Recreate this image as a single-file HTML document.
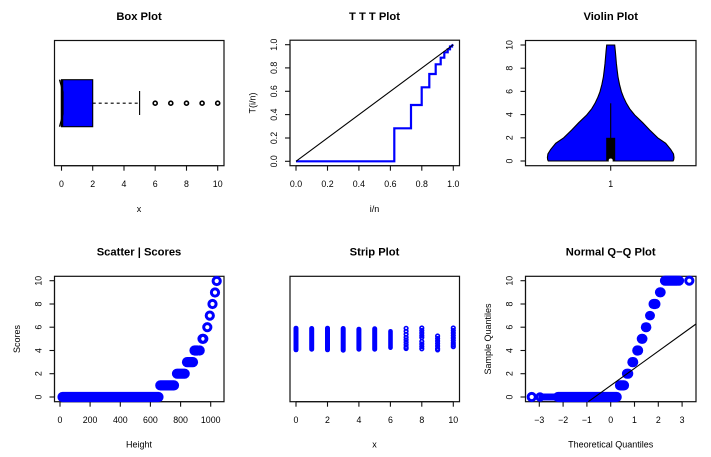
<!DOCTYPE html>
<html><head><meta charset="utf-8"><style>
html,body{margin:0;padding:0;background:#fff;}
svg{display:block;font-family:"Liberation Sans",Arial,sans-serif;}
.t{font-size:11.2px;font-weight:bold;text-anchor:middle;}
.k{font-size:8.8px;text-anchor:middle;}
.l{font-size:9px;text-anchor:middle;}
.f{fill:none;stroke:#111;stroke-width:1.2;}
.tk{stroke:#111;stroke-width:1.1;}
</style></head><body>
<svg width="711" height="457" viewBox="0 0 711 457" xmlns="http://www.w3.org/2000/svg">
<rect width="711" height="457" fill="#fff"/>

<!-- ===== Box Plot ===== -->
<text class="t" x="139" y="20">Box Plot</text>
<rect class="f" x="54.5" y="40.5" width="169.5" height="125.2"/>
<g class="tk">
<line x1="61.5" y1="165.7" x2="217.7" y2="165.7"/>
<line x1="61.5" y1="165.7" x2="61.5" y2="170.7"/>
<line x1="92.7" y1="165.7" x2="92.7" y2="170.7"/>
<line x1="124" y1="165.7" x2="124" y2="170.7"/>
<line x1="155.2" y1="165.7" x2="155.2" y2="170.7"/>
<line x1="186.5" y1="165.7" x2="186.5" y2="170.7"/>
<line x1="217.7" y1="165.7" x2="217.7" y2="170.7"/>
</g>
<g class="k">
<text x="61.5" y="187.2">0</text><text x="92.7" y="187.2">2</text><text x="124" y="187.2">4</text>
<text x="155.2" y="187.2">6</text><text x="186.5" y="187.2">8</text><text x="217.7" y="187.2">10</text>
</g>
<text class="l" x="139" y="212">x</text>
<rect x="61.5" y="79.7" width="31.2" height="47" fill="#0000ff" stroke="#000" stroke-width="1.1"/>
<path d="M59.5,79.7 L63,92 L63,114 L59.5,126.7" fill="none" stroke="#000" stroke-width="1.3"/>
<line x1="62" y1="80" x2="62" y2="126.5" stroke="#000" stroke-width="2.5"/>
<line x1="92.7" y1="103.2" x2="139.6" y2="103.2" stroke="#000" stroke-width="1.1" stroke-dasharray="3,3"/>
<line x1="139.6" y1="91" x2="139.6" y2="115" stroke="#000" stroke-width="1.1"/>
<g fill="#fff" stroke="#000" stroke-width="1.6">
<circle cx="155.2" cy="103.2" r="2"/><circle cx="170.8" cy="103.2" r="2"/><circle cx="186.5" cy="103.2" r="2"/>
<circle cx="202.1" cy="103.2" r="2"/><circle cx="217.7" cy="103.2" r="2"/>
</g>

<!-- ===== TTT Plot ===== -->
<text class="t" x="374.5" y="20">T T T Plot</text>
<rect class="f" x="290" y="40.2" width="169.5" height="125.5"/>
<g class="tk">
<line x1="296" y1="165.7" x2="453.3" y2="165.7"/>
<line x1="296" y1="165.7" x2="296" y2="170.7"/>
<line x1="327.5" y1="165.7" x2="327.5" y2="170.7"/>
<line x1="358.9" y1="165.7" x2="358.9" y2="170.7"/>
<line x1="390.4" y1="165.7" x2="390.4" y2="170.7"/>
<line x1="421.8" y1="165.7" x2="421.8" y2="170.7"/>
<line x1="453.3" y1="165.7" x2="453.3" y2="170.7"/>
<line x1="290" y1="161.3" x2="290" y2="44.7"/>
<line x1="290" y1="161.3" x2="285" y2="161.3"/>
<line x1="290" y1="138" x2="285" y2="138"/>
<line x1="290" y1="114.6" x2="285" y2="114.6"/>
<line x1="290" y1="91.3" x2="285" y2="91.3"/>
<line x1="290" y1="67.9" x2="285" y2="67.9"/>
<line x1="290" y1="44.7" x2="285" y2="44.7"/>
</g>
<g class="k">
<text x="296" y="187.2">0.0</text><text x="327.5" y="187.2">0.2</text><text x="358.9" y="187.2">0.4</text>
<text x="390.4" y="187.2">0.6</text><text x="421.8" y="187.2">0.8</text><text x="453.3" y="187.2">1.0</text>
<text transform="translate(277.1,161.3) rotate(-90)">0.0</text>
<text transform="translate(277.1,138) rotate(-90)">0.2</text>
<text transform="translate(277.1,114.6) rotate(-90)">0.4</text>
<text transform="translate(277.1,91.3) rotate(-90)">0.6</text>
<text transform="translate(277.1,67.9) rotate(-90)">0.8</text>
<text transform="translate(277.1,44.7) rotate(-90)">1.0</text>
</g>
<text class="l" x="374.5" y="212">i/n</text>
<text class="l" transform="translate(255.6,103) rotate(-90)">T(i/n)</text>
<path d="M296,161.3 H394.3 V128.3 H411 V105 H421.7 V87.3 H429.3 V74 H435.7 V64.3 H440.7 V57.7 H444.3 V52.3 H447.7 V49.3 H450 V46.5 H452 V45.5 L453.3,44.7" fill="none" stroke="#0000ff" stroke-width="2.2"/>
<line x1="296" y1="161.3" x2="453.3" y2="44.7" stroke="#000" stroke-width="1.1"/>

<!-- ===== Violin Plot ===== -->
<text class="t" x="610.7" y="20">Violin Plot</text>
<rect class="f" x="525.5" y="40.5" width="170.5" height="125.2"/>
<g class="tk">
<line x1="525.5" y1="161" x2="520.5" y2="161"/>
<line x1="525.5" y1="137.8" x2="520.5" y2="137.8"/>
<line x1="525.5" y1="114.6" x2="520.5" y2="114.6"/>
<line x1="525.5" y1="91.4" x2="520.5" y2="91.4"/>
<line x1="525.5" y1="68.2" x2="520.5" y2="68.2"/>
<line x1="525.5" y1="45" x2="520.5" y2="45"/>
<line x1="610.7" y1="165.7" x2="610.7" y2="170.7"/>
</g>
<g class="k">
<text transform="translate(512.6,161) rotate(-90)">0</text>
<text transform="translate(512.6,137.8) rotate(-90)">2</text>
<text transform="translate(512.6,114.6) rotate(-90)">4</text>
<text transform="translate(512.6,91.4) rotate(-90)">6</text>
<text transform="translate(512.6,68.2) rotate(-90)">8</text>
<text transform="translate(512.6,45) rotate(-90)">10</text>
<text x="610.7" y="187.2">1</text>
</g>
<path d="M606.7,45 L606.1,50.8 L605.6,56.6 L605,63.6 L604.2,70.5 L603.4,76.8 L601.9,84.4 L600,91.7 L597.9,97.2 L595,103.3 L591.7,108.8 L586.7,115 L578.7,122.7 L571.7,130 L563.7,137.8 L555.7,143.3 L550.7,149.4 L547.9,154 L547.4,157.5 L547.7,159.8 L548.3,161 L673.1,161 L673.7,159.8 L674,157.5 L673.5,154 L670.7,149.4 L665.7,143.3 L657.7,137.8 L649.7,130 L642.7,122.7 L634.7,115 L629.7,108.8 L626.4,103.3 L623.5,97.2 L621.4,91.7 L619.5,84.4 L618,76.8 L617.2,70.5 L616.4,63.6 L615.8,56.6 L615.3,50.8 L614.7,45 Z" fill="#0000ff" stroke="#000" stroke-width="1.1"/>
<line x1="610.7" y1="103.3" x2="610.7" y2="138" stroke="#000" stroke-width="1.1"/>
<rect x="606.2" y="137.8" width="9" height="23.2" fill="#000"/>
<circle cx="610.7" cy="160.5" r="2" fill="#fff"/>

<!-- ===== Scatter | Scores ===== -->
<text class="t" x="139" y="255.7">Scatter | Scores</text>
<rect class="f" x="54.5" y="276.3" width="169.5" height="125.4"/>
<g class="tk">
<line x1="60" y1="401.7" x2="210.7" y2="401.7"/>
<line x1="60" y1="401.7" x2="60" y2="406.7"/>
<line x1="90.1" y1="401.7" x2="90.1" y2="406.7"/>
<line x1="120.3" y1="401.7" x2="120.3" y2="406.7"/>
<line x1="150.4" y1="401.7" x2="150.4" y2="406.7"/>
<line x1="180.6" y1="401.7" x2="180.6" y2="406.7"/>
<line x1="210.7" y1="401.7" x2="210.7" y2="406.7"/>
<line x1="54.5" y1="397" x2="54.5" y2="280.7"/>
<line x1="54.5" y1="397" x2="49.5" y2="397"/>
<line x1="54.5" y1="373.7" x2="49.5" y2="373.7"/>
<line x1="54.5" y1="350.5" x2="49.5" y2="350.5"/>
<line x1="54.5" y1="327.2" x2="49.5" y2="327.2"/>
<line x1="54.5" y1="304" x2="49.5" y2="304"/>
<line x1="54.5" y1="280.7" x2="49.5" y2="280.7"/>
</g>
<g class="k">
<text x="60" y="423.2">0</text><text x="90.1" y="423.2">200</text><text x="120.3" y="423.2">400</text>
<text x="150.4" y="423.2">600</text><text x="180.6" y="423.2">800</text><text x="210.7" y="423.2">1000</text>
<text transform="translate(41.6,397) rotate(-90)">0</text>
<text transform="translate(41.6,373.7) rotate(-90)">2</text>
<text transform="translate(41.6,350.5) rotate(-90)">4</text>
<text transform="translate(41.6,327.2) rotate(-90)">6</text>
<text transform="translate(41.6,304) rotate(-90)">8</text>
<text transform="translate(41.6,280.7) rotate(-90)">10</text>
</g>
<text class="l" x="139" y="447.5">Height</text>
<text class="l" transform="translate(20,339) rotate(-90)">Scores</text>
<g stroke="#0000ff" stroke-linecap="round" stroke-width="10.2" fill="none">
<line x1="62.5" y1="397" x2="158.5" y2="397"/>
<line x1="160.3" y1="385.4" x2="174" y2="385.4"/>
<line x1="177" y1="373.7" x2="184.7" y2="373.7"/>
<line x1="187" y1="362.1" x2="193" y2="362.1"/>
<line x1="194.5" y1="350.5" x2="197.5" y2="350.5"/>
</g>
<g stroke="#0000ff" stroke-width="3" fill="none">
<circle cx="199.7" cy="350.5" r="3.6"/>
<circle cx="202.5" cy="338.8" r="3.6"/>
<circle cx="203.3" cy="338.8" r="3.6"/>
<circle cx="207.3" cy="327.2" r="3.6"/>
<circle cx="209.8" cy="315.6" r="3.6"/>
<circle cx="212.5" cy="304" r="3.6"/>
<circle cx="215" cy="292.5" r="3.6"/>
<circle cx="216.7" cy="281" r="3.6"/>
</g>

<!-- ===== Strip Plot ===== -->
<text class="t" x="374.5" y="255.7">Strip Plot</text>
<rect class="f" x="290" y="276.3" width="169.5" height="125.4"/>
<g class="tk">
<line x1="296" y1="401.7" x2="453.3" y2="401.7"/>
<line x1="296" y1="401.7" x2="296" y2="406.7"/>
<line x1="327.5" y1="401.7" x2="327.5" y2="406.7"/>
<line x1="358.9" y1="401.7" x2="358.9" y2="406.7"/>
<line x1="390.4" y1="401.7" x2="390.4" y2="406.7"/>
<line x1="421.8" y1="401.7" x2="421.8" y2="406.7"/>
<line x1="453.3" y1="401.7" x2="453.3" y2="406.7"/>
</g>
<g class="k">
<text x="296" y="423.2">0</text><text x="327.5" y="423.2">2</text><text x="358.9" y="423.2">4</text>
<text x="390.4" y="423.2">6</text><text x="421.8" y="423.2">8</text><text x="453.3" y="423.2">10</text>
</g>
<text class="l" x="374.5" y="447.5">x</text>
<g fill="#0000ff">
<rect x="293.5" y="325.7" width="5" height="26.6" rx="2.5"/>
<rect x="309.2" y="326" width="5" height="25.7" rx="2.5"/>
<rect x="325" y="325.7" width="5" height="26.6" rx="2.5"/>
<rect x="340.7" y="326" width="5" height="26.7" rx="2.5"/>
<rect x="356.4" y="326.7" width="5" height="25" rx="2.5"/>
<rect x="372.2" y="326.3" width="5" height="25.4" rx="2.5"/>
<rect x="388.2" y="329" width="4.6" height="21" rx="2.3"/>
</g>
<g fill="none" stroke="#0000ff" stroke-width="1.6">
<circle cx="406.1" cy="328.3" r="1.8"/><circle cx="406.1" cy="331.3" r="1.8"/><circle cx="406.1" cy="334.3" r="1.8"/>
<circle cx="406.1" cy="337.3" r="1.8"/><circle cx="406.1" cy="339.8" r="1.8"/><circle cx="406.1" cy="342.3" r="1.8"/>
<circle cx="406.1" cy="344.8" r="1.8"/><circle cx="406.1" cy="347.3" r="1.8"/><circle cx="406.1" cy="348.5" r="1.8"/>
<circle cx="421.8" cy="328" r="1.8"/><circle cx="421.8" cy="330.5" r="1.8"/><circle cx="421.8" cy="333" r="1.8"/>
<circle cx="421.8" cy="335.5" r="1.8"/><circle cx="421.8" cy="337.5" r="1.8"/><circle cx="421.8" cy="341.5" r="1.8"/>
<circle cx="421.8" cy="344" r="1.8"/><circle cx="421.8" cy="346.5" r="1.8"/><circle cx="421.8" cy="348.8" r="1.8"/>
<circle cx="437.6" cy="336" r="1.8"/><circle cx="437.6" cy="338.5" r="1.8"/><circle cx="437.6" cy="341" r="1.8"/>
<circle cx="437.6" cy="343.5" r="1.8"/><circle cx="437.6" cy="346" r="1.8"/><circle cx="437.6" cy="348.5" r="1.8"/>
<circle cx="437.6" cy="349.9" r="1.8"/>
<circle cx="453.3" cy="328" r="1.8"/><circle cx="453.3" cy="330.5" r="1.8"/><circle cx="453.3" cy="333" r="1.8"/>
<circle cx="453.3" cy="335.5" r="1.8"/><circle cx="453.3" cy="338" r="1.8"/><circle cx="453.3" cy="340.5" r="1.8"/>
<circle cx="453.3" cy="343" r="1.8"/><circle cx="453.3" cy="345" r="1.8"/><circle cx="453.3" cy="346.7" r="1.8"/>
</g>

<!-- ===== Normal Q-Q Plot ===== -->
<text class="t" x="610.7" y="255.7">Normal Q−Q Plot</text>
<rect class="f" x="525.5" y="276.3" width="170.5" height="125.4"/>
<g class="tk">
<line x1="539.3" y1="401.7" x2="682.1" y2="401.7"/>
<line x1="539.3" y1="401.7" x2="539.3" y2="406.7"/>
<line x1="563.1" y1="401.7" x2="563.1" y2="406.7"/>
<line x1="586.9" y1="401.7" x2="586.9" y2="406.7"/>
<line x1="610.7" y1="401.7" x2="610.7" y2="406.7"/>
<line x1="634.5" y1="401.7" x2="634.5" y2="406.7"/>
<line x1="658.3" y1="401.7" x2="658.3" y2="406.7"/>
<line x1="682.1" y1="401.7" x2="682.1" y2="406.7"/>
<line x1="525.5" y1="397" x2="525.5" y2="280.7"/>
<line x1="525.5" y1="397" x2="520.5" y2="397"/>
<line x1="525.5" y1="373.7" x2="520.5" y2="373.7"/>
<line x1="525.5" y1="350.5" x2="520.5" y2="350.5"/>
<line x1="525.5" y1="327.2" x2="520.5" y2="327.2"/>
<line x1="525.5" y1="304" x2="520.5" y2="304"/>
<line x1="525.5" y1="280.7" x2="520.5" y2="280.7"/>
</g>
<g class="k">
<text x="539.3" y="423.2">−3</text><text x="563.1" y="423.2">−2</text><text x="586.9" y="423.2">−1</text>
<text x="610.7" y="423.2">0</text><text x="634.5" y="423.2">1</text><text x="658.3" y="423.2">2</text><text x="682.1" y="423.2">3</text>
<text transform="translate(512.6,397) rotate(-90)">0</text>
<text transform="translate(512.6,373.7) rotate(-90)">2</text>
<text transform="translate(512.6,350.5) rotate(-90)">4</text>
<text transform="translate(512.6,327.2) rotate(-90)">6</text>
<text transform="translate(512.6,304) rotate(-90)">8</text>
<text transform="translate(512.6,280.7) rotate(-90)">10</text>
</g>
<text class="l" x="610.7" y="447.5">Theoretical Quantiles</text>
<text class="l" transform="translate(491,339) rotate(-90)">Sample Quantiles</text>
<g stroke="#0000ff" stroke-linecap="round" fill="none">
<line x1="542" y1="397" x2="558" y2="397" stroke-width="7"/>
<line x1="558" y1="397" x2="616.7" y2="397" stroke-width="10.2"/>
<line x1="620" y1="385.4" x2="624" y2="385.4" stroke-width="10.2"/>
<line x1="627" y1="373.7" x2="628.2" y2="373.7" stroke-width="10.2"/>
<line x1="632.4" y1="362.1" x2="633.2" y2="362.1" stroke-width="10.2"/>
<line x1="637.3" y1="350.5" x2="638.1" y2="350.5" stroke-width="10.2"/>
<line x1="641.8" y1="338.8" x2="642.4" y2="338.8" stroke-width="10.2"/>
<line x1="645.8" y1="327.2" x2="646.4" y2="327.2" stroke-width="10"/>
<line x1="649.8" y1="315.6" x2="650.2" y2="315.6" stroke-width="9.5"/>
<line x1="653.6" y1="304" x2="655.4" y2="304" stroke-width="10.2"/>
<line x1="660" y1="292.3" x2="660.6" y2="292.3" stroke-width="10.2"/>
<line x1="665" y1="280.7" x2="677" y2="280.7" stroke-width="10.2"/>
</g>
<g stroke="#0000ff" stroke-width="3" fill="none">
<circle cx="531.7" cy="397" r="3.6"/>
<circle cx="540" cy="397" r="3.2"/>
<circle cx="679" cy="280.7" r="3.6"/>
<circle cx="689.3" cy="280.7" r="3.6"/>
</g>
<line x1="588.3" y1="401.7" x2="696" y2="324" stroke="#000" stroke-width="1.1"/>
</svg>
</body></html>
